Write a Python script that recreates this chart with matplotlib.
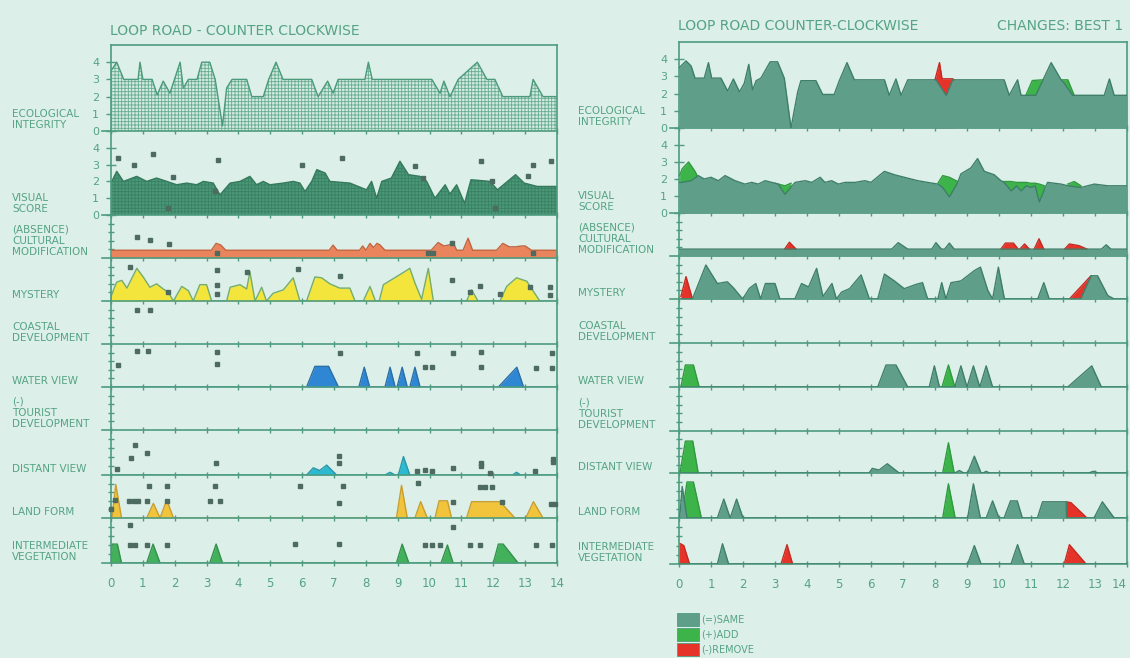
import matplotlib
matplotlib.use("Agg")
import matplotlib.pyplot as plt
from matplotlib.patches import Rectangle

# figure size in pixels (dpi 100)
W, H = 1130, 658

# ---------------- left panel: LOOP ROAD - COUNTER CLOCKWISE ----------------
ecoX = [0, 0.18, 0.4, 0.85, 0.91, 1.0, 1.29, 1.45, 1.64, 1.85, 2.17, 2.27, 2.43, 2.7, 2.85, 3.1,
        3.27, 3.5, 3.63, 3.8, 4.26, 4.42, 4.78, 4.95, 5.18, 5.4, 6.3, 6.5, 6.8, 6.97, 7.13, 7.97,
        8.08, 8.2, 10.07, 10.33, 10.45, 10.64, 10.9, 11.5, 11.8, 12.05, 12.3, 13.15, 13.25, 13.56, 14]
ecoY = [3.5, 4.0, 3.0, 3.0, 4.0, 3.0, 3.0, 2.1, 2.9, 2.2, 4.0, 2.5, 3.0, 3.0, 4.0, 4.0,
        3.0, 0.3, 2.5, 3.0, 3.0, 2.0, 2.0, 3.0, 4.0, 3.0, 3.0, 2.0, 2.9, 2.2, 3.0, 3.0,
        4.0, 3.0, 3.0, 2.2, 2.9, 2.0, 3.0, 4.0, 3.0, 3.0, 2.0, 2.0, 3.0, 2.0, 2.0]

visualX = [0, 0.18, 0.39, 0.81, 1.12, 1.43, 1.75, 2.06, 2.38, 2.69, 2.9, 3.21, 3.42, 3.74, 4.05,
           4.36, 4.57, 4.78, 4.99, 5.41, 5.72, 5.93, 6.09, 6.3, 6.46, 6.72, 6.87, 7.5, 8.02, 8.18,
           8.34, 8.5, 8.8, 9.07, 9.34, 9.7, 9.91, 10.17, 10.49, 10.64, 10.85, 11.1, 11.3, 11.9,
           12.13, 12.7, 12.97, 13.38, 14]
visualY = [1.9, 2.6, 2.0, 2.3, 2.0, 2.2, 2.0, 1.8, 1.9, 1.8, 2.0, 1.9, 1.2, 1.9, 2.0,
           2.3, 1.8, 2.0, 1.8, 1.9, 2.0, 1.9, 1.4, 2.0, 2.7, 2.5, 2.0, 1.9, 1.5, 2.0,
           1.0, 2.0, 2.2, 3.2, 2.4, 2.3, 2.0, 1.0, 1.8, 1.25, 1.8, 0.7, 2.1, 2.0,
           1.5, 2.4, 1.9, 1.7, 1.7]

culturalX = [0, 3.15, 3.3, 3.45, 3.6, 6.85, 6.97, 7.1, 7.8, 7.9, 8.0, 8.13, 8.24, 8.35, 8.45, 8.6,
             10.05, 10.27, 10.45, 10.6, 10.74, 10.85, 11.05, 11.21, 11.35, 12.1, 12.3, 12.5, 12.7,
             12.9, 13.0, 13.2, 14]
culturalY = [0.9, 0.9, 1.7, 1.5, 0.9, 0.9, 1.5, 0.9, 0.9, 1.4, 0.9, 1.7, 1.2, 1.7, 1.5, 0.9,
             0.9, 1.8, 1.4, 1.5, 1.8, 0.9, 0.9, 2.3, 0.9, 0.9, 1.7, 1.3, 1.3,
             1.4, 1.4, 0.9, 0.9]

mysteryX = [0, 0.1, 0.18, 0.34, 0.5, 0.81, 1.01, 1.22, 1.43, 1.64, 1.8, 1.96, 2.22, 2.43, 2.58,
            2.79, 3.0, 3.16, 3.63, 3.74, 4.05, 4.26, 4.36, 4.52, 4.73, 4.88, 5.09, 5.41, 5.72, 5.93,
            6.14, 6.4, 6.61, 6.87, 7.18, 7.5, 7.66, 7.92, 8.13, 8.3, 8.42, 8.55, 9.17, 9.38, 9.54,
            9.75, 9.96, 10.12, 11.16, 11.32, 11.52, 12.21, 12.42, 12.73, 13.05, 13.46, 14]
mysteryY = [0.5, 1.5, 2.2, 2.4, 1.5, 3.8, 2.8, 1.6, 2.0, 1.4, 1.0, 0, 1.7, 1.2, 0,
            1.9, 1.9, 0, 0, 1.6, 1.9, 1.4, 3.4, 0, 1.6, 0, 0.9, 1.3, 2.7, 0,
            0, 2.8, 2.7, 2.0, 1.5, 1.5, 0, 0, 1.7, 0, 0, 1.9, 3.3, 3.8, 2.1,
            0.2, 3.8, 0, 0, 1.3, 0, 0, 1.7, 2.7, 2.3, 0, 0]

waterX = [0, 6.14, 6.4, 6.83, 7.14, 7.78, 7.95, 8.12, 8.6, 8.76, 8.92, 8.98, 9.14, 9.3, 9.38,
          9.54, 9.7, 12.16, 12.74, 12.95, 14]
waterY = [0, 0, 2.4, 2.4, 0, 0, 2.3, 0, 0, 2.3, 0, 0, 2.3, 0, 0,
          2.3, 0, 0, 2.3, 0, 0]

distantX = [0, 6.14, 6.35, 6.55, 6.77, 7.08, 8.6, 8.76, 8.92, 9.02, 9.18, 9.38, 12.6, 12.73, 12.86, 14]
distantY = [0, 0, 0.8, 0.5, 1.1, 0, 0, 0.3, 0, 0, 2.05, 0, 0, 0.3, 0, 0]

landX = [0, 0.03, 0.15, 0.33, 1.12, 1.33, 1.54, 1.75, 1.96, 8.96, 9.12, 9.3, 9.54, 9.72, 9.93,
         10.17, 10.3, 10.56, 10.69, 11.16, 11.32, 12.21, 12.68, 13.02, 13.26, 13.56, 14]
landY = [0, 0, 3.9, 0, 0, 1.7, 0, 2.1, 0, 0, 3.8, 0, 0, 1.9, 0,
         0, 2.0, 2.0, 0, 0, 1.9, 1.9, 0, 0, 1.9, 0, 0]

vegX = [0, 0.03, 0.2, 0.33, 1.12, 1.32, 1.54, 3.1, 3.3, 3.5, 8.96, 9.14, 9.35, 10.36, 10.56,
        10.74, 12.0, 12.16, 12.31, 12.78, 14]
vegY = [0, 2.1, 2.1, 0, 0, 2.1, 0, 0, 2.1, 0, 0, 2.1, 0, 0, 2.0,
        0, 0, 2.1, 2.1, 0, 0]

# loose plotted points (x, y) scattered above the profiles
dotsVisual = [(0.23, 3.4), (0.71, 3.0), (1.31, 3.65), (1.96, 2.25), (3.37, 3.3), (5.99, 2.95),
              (7.24, 3.4), (1.8, 0.4), (3.26, 1.45), (9.54, 2.9), (9.8, 2.2), (11.62, 3.2),
              (11.95, 2.05), (12.05, 0.4), (13.1, 2.3), (13.26, 3.0), (13.81, 3.2)]
dotsCultural = [(0.81, 2.4), (1.22, 2.1), (1.83, 1.6), (3.32, 0.6), (10.69, 1.8), (9.96, 0.6),
                (10.12, 0.6), (13.26, 0.6)]
dotsMystery = [(0.6, 3.95), (3.32, 3.6), (3.32, 1.9), (3.32, 0.85), (1.8, 1.05), (5.88, 3.75),
               (7.2, 2.9), (4.26, 3.4), (10.69, 2.4), (11.58, 1.8), (11.26, 1.05), (12.21, 0.8),
               (13.15, 1.67), (13.78, 1.67), (13.78, 0.7)]
dotsCoastal = [(0.81, 4.0), (1.22, 4.0)]
dotsWater = [(0.81, 4.2), (1.17, 4.2), (3.32, 4.1), (3.32, 2.7), (0.23, 2.6), (7.2, 4.0),
             (9.59, 3.95), (10.72, 3.95), (11.61, 4.07), (13.85, 3.95), (9.86, 2.3), (10.07, 2.3),
             (11.61, 2.3), (13.33, 2.25), (13.85, 2.25)]
dotsDistant = [(0.75, 3.3), (0.63, 1.85), (1.14, 2.5), (0.19, 0.7), (3.29, 1.35), (7.17, 2.1),
               (7.17, 1.3), (9.59, 0.45), (9.86, 0.6), (10.07, 0.45), (10.72, 0.8), (11.61, 1.35),
               (11.61, 1.05), (11.89, 0.2), (13.3, 0.5), (13.88, 1.75), (13.88, 1.45)]
dotsLand = [(1.2, 3.75), (1.77, 3.75), (3.26, 3.75), (5.93, 3.75), (7.27, 3.75), (0.13, 2.1),
            (0.58, 1.95), (0.72, 1.95), (0.86, 1.95), (1.12, 1.95), (1.75, 1.95), (3.1, 1.95),
            (3.42, 1.95), (7.17, 1.75), (0.0, 1.0), (9.63, 4.1), (10.75, 1.9), (11.58, 3.6),
            (11.74, 3.6), (11.95, 3.6), (12.27, 1.85), (13.8, 1.65), (13.95, 1.65)]
dotsVeg = [(0.61, 4.25), (0.59, 2.0), (0.75, 2.0), (1.12, 2.0), (1.75, 2.0), (5.78, 2.1),
           (7.17, 2.1), (10.75, 4.0), (9.86, 2.0), (10.07, 2.0), (10.33, 2.0), (11.26, 2.0),
           (11.58, 2.0), (13.35, 1.95), (13.85, 1.95)]

# ---------------- right panel: CHANGES, BEST 1 ----------------
rEcoX = [0, 0.06, 0.22, 0.38, 0.5, 0.79, 0.92, 1.02, 1.31, 1.52, 1.7, 1.89, 2.04, 2.18, 2.3,
         2.41, 2.56, 2.85, 3.08, 3.29, 3.5, 3.71, 3.81, 4.28, 4.49, 4.85, 5.01, 5.25, 5.48, 6.42,
         6.57, 6.78, 6.94, 7.15, 8.03, 8.35, 8.55, 10.16, 10.32, 10.58, 10.69, 11.15, 11.3, 11.63,
         11.94, 12.04, 12.3, 13.29, 13.45, 13.6, 14]
rEcoY = [3.5, 3.6, 3.9, 3.6, 2.9, 2.9, 3.8, 2.9, 2.9, 2.15, 2.85, 2.1, 2.6, 3.7, 2.2,
         2.75, 2.9, 3.85, 3.85, 2.9, 0, 2.1, 2.75, 2.75, 1.95, 1.95, 2.75, 3.8, 2.8, 2.8,
         1.9, 2.85, 1.9, 2.8, 2.8, 1.9, 2.8, 2.8, 1.9, 2.8, 1.9, 1.9, 2.5, 3.8,
         2.8, 2.6, 1.9, 1.9, 2.85, 1.9, 1.9]
rEcoAdd = [([10.84, 11.04, 11.36, 11.45], [1.9, 2.76, 2.8, 2.8]),
           ([11.94, 12.04, 12.15, 12.35], [2.8, 2.8, 2.8, 1.9])]
rEcoRemove = [([8.0, 8.14, 8.22, 8.55, 8.6], [2.8, 3.8, 2.86, 2.86, 2.8])]

rVisualX = [0, 0.06, 0.38, 0.6, 0.79, 1.0, 1.23, 1.44, 1.75, 2.06, 2.27, 2.48, 2.69, 2.9, 3.1,
            3.31, 3.63, 3.94, 4.15, 4.41, 4.56, 4.77, 4.98, 5.19, 5.5, 5.81, 6.0, 6.42, 6.73, 7.04,
            7.46, 7.77, 8.09, 8.24, 8.45, 8.71, 8.81, 9.12, 9.33, 9.54, 9.85, 10.06, 10.16, 10.38,
            10.55, 10.69, 10.85, 11.0, 11.13, 11.26, 11.42, 11.52, 11.94, 12.15, 12.56, 12.98,
            13.4, 13.81, 14]
rVisualY = [1.8, 1.8, 1.9, 2.2, 2.0, 2.1, 1.9, 2.2, 1.9, 1.7, 1.8, 1.7, 1.9, 1.8, 1.7,
            1.1, 1.8, 1.9, 1.8, 2.1, 1.8, 1.9, 1.7, 1.8, 1.8, 1.9, 1.8, 2.45, 2.25, 2.1,
            1.9, 1.8, 1.7, 1.5, 0.95, 1.8, 2.3, 2.65, 3.2, 2.45, 2.25, 1.9, 1.8, 1.3,
            1.6, 1.3, 1.6, 1.5, 1.6, 0.65, 1.4, 1.8, 1.7, 1.6, 1.5, 1.7,
            1.6, 1.6, 1.6]
rVisualAdd = [([0.02, 0.1, 0.3, 0.5, 0.62], [2.2, 2.6, 3.0, 2.45, 2.0]),
              ([3.0, 3.31, 3.5], [1.75, 1.6, 1.75]),
              ([8.09, 8.24, 8.45, 8.71], [1.75, 2.2, 2.1, 1.85]),
              ([10.1, 10.38, 10.55, 10.69, 10.85, 11.0, 11.13, 11.26, 11.42],
               [1.85, 1.85, 1.8, 1.8, 1.8, 1.75, 1.75, 1.7, 1.6]),
              ([12.15, 12.35, 12.56], [1.7, 1.85, 1.6])]

rCulturalX = [0, 6.65, 6.85, 7.15, 7.9, 8.03, 8.2, 8.3, 8.45, 8.6, 13.2, 13.35, 13.5, 14]
rCulturalY = [0.8, 0.8, 1.55, 0.8, 0.8, 1.55, 0.8, 0.8, 1.5, 0.8, 0.8, 1.3, 0.8, 0.8]
rCulturalRemove = [([3.3, 3.45, 3.66], [0.8, 1.6, 0.8]),
                   ([10.06, 10.2, 10.45, 10.6], [0.8, 1.5, 1.5, 0.8]),
                   ([10.65, 10.8, 10.95], [0.8, 1.4, 0.8]),
                   ([11.1, 11.25, 11.4], [0.8, 2.0, 0.8]),
                   ([12.05, 12.2, 12.5, 12.75], [0.8, 1.4, 1.2, 0.8])]

rMysteryX = [0, 0.06, 0.42, 0.84, 1.2, 1.51, 1.7, 1.99, 2.2, 2.4, 2.55, 2.7, 3.0, 3.15, 3.62,
             3.83, 4.05, 4.3, 4.5, 4.78, 4.92, 5.08, 5.33, 5.69, 5.95, 6.21, 6.42, 6.73, 7.04, 7.41,
             7.61, 7.77, 8.09, 8.21, 8.34, 8.5, 8.81, 9.23, 9.42, 9.65, 9.8, 9.98, 10.17, 11.21,
             11.4, 11.57, 12.55, 12.875, 13.08, 13.4, 13.6, 14]
rMysteryY = [0, 0, 0, 3.95, 1.8, 2.0, 1.3, 0, 1.24, 1.8, 0, 1.8, 1.8, 0, 0,
             1.8, 1.4, 3.56, 0.3, 1.8, 0, 0.8, 1.2, 2.8, 0, 0, 2.9, 2.1, 1.2, 1.7,
             1.9, 0, 0, 1.9, 0, 1.9, 2.1, 3.3, 3.7, 1.0, 0, 3.7, 0, 0,
             1.9, 0, 0, 2.7, 2.7, 0.4, 0, 0]
rMysteryRemove = [([0.06, 0.22, 0.42], [0.3, 2.6, 0]),
                  ([12.2, 12.875, 12.88], [0, 2.7, 0])]

rWaterX = [0, 6.21, 6.47, 6.78, 7.15, 7.82, 7.98, 8.14, 8.62, 8.81, 9.0, 9.2, 9.4, 9.6, 9.8,
           12.15, 12.9, 13.2, 14]
rWaterY = [0, 0, 2.5, 2.5, 0, 0, 2.4, 0, 0, 2.4, 0, 2.4, 0, 2.4, 0,
           0, 2.4, 0, 0]
rWaterAdd = [([0.06, 0.2, 0.45, 0.63], [0, 2.5, 2.5, 0]),
             ([8.22, 8.42, 8.62], [0, 2.5, 0])]

rDistantX = [0, 5.94, 6.04, 6.25, 6.51, 6.88, 8.62, 8.76, 8.9, 9.02, 9.23, 9.44, 9.5, 9.6, 9.7,
             12.8, 12.95, 13.1, 14]
rDistantY = [0, 0, 0.55, 0.35, 1.1, 0, 0, 0.3, 0, 0, 2.0, 0, 0, 0.2, 0,
             0, 0.2, 0, 0]
rDistantAdd = [([0.03, 0.2, 0.43, 0.6], [0, 3.8, 3.8, 0]),
               ([8.24, 8.42, 8.6], [0, 3.6, 0])]

rLandX = [0, 0.02, 0.1, 0.25, 1.2, 1.4, 1.6, 1.8, 2.0, 9.02, 9.2, 9.42, 9.6, 9.8, 10.0,
          10.16, 10.36, 10.57, 10.73, 11.2, 11.36, 12.1, 12.11, 12.97, 13.23, 13.6, 14]
rLandY = [0, 0, 3.5, 0, 0, 2.1, 0, 2.1, 0, 0, 3.8, 0, 0, 1.9, 0,
          0, 1.9, 1.9, 0, 0, 1.8, 1.8, 0, 0, 1.8, 0, 0]
rLandAdd = [([0.08, 0.25, 0.45, 0.7], [0, 4.0, 4.0, 0]),
            ([8.24, 8.42, 8.63], [0, 3.8, 0])]
rLandRemove = [([12.1, 12.25, 12.75], [1.8, 1.7, 0])]

rVegX = [0, 1.2, 1.36, 1.55, 9.02, 9.23, 9.44, 10.375, 10.58, 10.79, 14]
rVegY = [0, 0, 2.2, 0, 0, 2.0, 0, 0, 2.1, 0, 0]
rVegRemove = [([0.0, 0.05, 0.15, 0.33], [2.2, 2.2, 2.0, 0]),
              ([3.19, 3.375, 3.55], [0, 2.1, 0]),
              ([12.04, 12.2, 12.72], [0, 2.1, 0])]

rowNames = ["ECOLOGICAL\nINTEGRITY", "VISUAL\nSCORE", "(ABSENCE)\nCULTURAL\nMODIFICATION",
            "MYSTERY", "COASTAL\nDEVELOPMENT", "WATER VIEW", "(-)\nTOURIST\nDEVELOPMENT",
            "DISTANT VIEW", "LAND FORM", "INTERMEDIATE\nVEGETATION"]
legendNames = ["(=)SAME", "(+)ADD", "(-)REMOVE"]

### STYLE ###
BG = "#dcefe8"
LINE = "#4e9c80"
TEXT = "#55a386"
SAME, ADD, REMOVE = "#5f9f8a", "#3cb44a", "#e5332a"

plt.rcParams['hatch.linewidth'] = 0.6
plt.rcParams['font.family'] = ['DejaVu Sans']


def make_panel(fig, x0, x1, edges, labelX):
    """ Builds the 10 stacked row axes of one panel (pixel coords in) """
    axes = []
    for i in range(10):
        top, bot = edges[i], edges[i + 1]
        ax = fig.add_axes([x0 / W, 1 - bot / H, (x1 - x0) / W, (bot - top) / H])
        ax.set_xlim(0, 14)
        ax.set_ylim(0, 5)
        ax.patch.set_alpha(0)
        for side in ['left', 'right', 'bottom', 'top']:
            ax.spines[side].set_color(LINE)
            ax.spines[side].set_linewidth(1.2)
        ax.spines['top'].set_visible(i == 0)
        # baseline sticks out a bit left of the axis
        ax.plot([-0.28, 0], [0, 0], color=LINE, lw=1.2, clip_on=False)
        ax.set_xticks(range(15))
        ax.tick_params(axis='x', direction='inout', length=4, width=1, color=LINE,
                       labelsize=8.5, labelcolor=TEXT, pad=8, labelbottom=(i == 9))
        if i < 2:
            ax.set_yticks(range(5))
            ax.tick_params(axis='y', direction='inout', length=7, width=1, color=LINE,
                           labelsize=8, labelcolor=TEXT, pad=5)
        else:
            ax.set_yticks([1, 2, 3, 4])
            ax.tick_params(axis='y', direction='inout', length=5, width=1, color=LINE,
                           labelleft=False)
        fig.text(labelX / W, 1 - (bot - 1) / H, rowNames[i], fontsize=7.5, color=TEXT,
                 ha='left', va='bottom', linespacing=1.15)
        axes.append(ax)
    return axes


def fill_profile(ax, xs, ys, face, edge, hatch=None, hatchColor=None, z=2):
    """ Fills a profile down to the row baseline and outlines its top """
    ax.fill_between(xs, 0, ys, facecolor=face, edgecolor=hatchColor or face,
                    hatch=hatch, linewidth=0, zorder=z)
    ax.plot(xs, ys, color=edge, lw=1.0, zorder=z + 0.1)


def plot_dots(ax, dots):
    """ Scatter the loose plotted points """
    ax.plot([d[0] for d in dots], [d[1] for d in dots], 's', ms=2.2,
            color="#4d6b60", zorder=5, clip_on=False)


def draw_changes(ax, same, adds=(), removes=()):
    """ Right panel row: removed and added shapes under the unchanged profile """
    for xs, ys in removes:
        fill_profile(ax, xs, ys, REMOVE, "#c42a22", z=2)
    for xs, ys in adds:
        fill_profile(ax, xs, ys, ADD, "#2f9a3e", z=2.5)
    fill_profile(ax, same[0], same[1], SAME, "#3f7f6a", z=3)


fig = plt.figure(figsize=(W / 100, H / 100), dpi=100, facecolor=BG)

# ---- left panel ----
left = make_panel(fig, 111, 557, [45, 131, 215, 258, 301, 344, 387, 430, 475, 518, 563], 12)
fill_profile(left[0], ecoX, ecoY, "#d2e9df", "#4a9a7b", hatch='+++++', hatchColor="#67ad91")
fill_profile(left[1], visualX, visualY, "#4b9878", "#357a5d", hatch='+++++', hatchColor="#3a8164")
fill_profile(left[2], culturalX, culturalY, "#e9845c", "#c4643f")
fill_profile(left[3], mysteryX, mysteryY, "#f3e53c", "#74ad6e")
fill_profile(left[5], waterX, waterY, "#2f86d2", "#2a6fa8")
fill_profile(left[7], distantX, distantY, "#2cbad2", "#2a97a9")
fill_profile(left[8], landX, landY, "#f1c43c", "#c99e2e")
fill_profile(left[9], vegX, vegY, "#43b05c", "#33914a")
plot_dots(left[1], dotsVisual)
plot_dots(left[2], dotsCultural)
plot_dots(left[3], dotsMystery)
plot_dots(left[4], dotsCoastal)
plot_dots(left[5], dotsWater)
plot_dots(left[7], dotsDistant)
plot_dots(left[8], dotsLand)
plot_dots(left[9], dotsVeg)

# ---- right panel ----
right = make_panel(fig, 679, 1127, [42, 128, 213, 256, 299, 343, 387, 431, 473, 518, 564], 578)
draw_changes(right[0], (rEcoX, rEcoY), rEcoAdd, rEcoRemove)
draw_changes(right[1], (rVisualX, rVisualY), rVisualAdd)
draw_changes(right[2], (rCulturalX, rCulturalY), removes=rCulturalRemove)
draw_changes(right[3], (rMysteryX, rMysteryY), removes=rMysteryRemove)
draw_changes(right[5], (rWaterX, rWaterY), rWaterAdd)
draw_changes(right[7], (rDistantX, rDistantY), rDistantAdd)
draw_changes(right[8], (rLandX, rLandY), rLandAdd, rLandRemove)
draw_changes(right[9], (rVegX, rVegY), removes=rVegRemove)
# last tick label sits against the picture edge: pull it inside
right[9].get_xticklabels()[-1].set_horizontalalignment('right')

# ---- titles ----
fig.text(110 / W, 1 - 31 / H, "LOOP ROAD - COUNTER CLOCKWISE", fontsize=10, color=TEXT,
         ha='left', va='center')
fig.text(678 / W, 1 - 26 / H, "LOOP ROAD COUNTER-CLOCKWISE", fontsize=10, color=TEXT,
         ha='left', va='center')
fig.text(997 / W, 1 - 26 / H, "CHANGES: BEST 1", fontsize=10, color=TEXT,
         ha='left', va='center')

# ---- legend ----
for k, (name, col) in enumerate(zip(legendNames, [SAME, ADD, REMOVE])):
    y = 613 + 15 * k
    fig.add_artist(Rectangle((677 / W, 1 - (y + 13) / H), 22 / W, 13 / H,
                             transform=fig.transFigure, facecolor=col, edgecolor=LINE, lw=0.6))
    fig.text(701 / W, 1 - (y + 6.5) / H, name, fontsize=7, color=TEXT, ha='left', va='center')

fig.savefig("out.png", dpi=100, facecolor=BG)
